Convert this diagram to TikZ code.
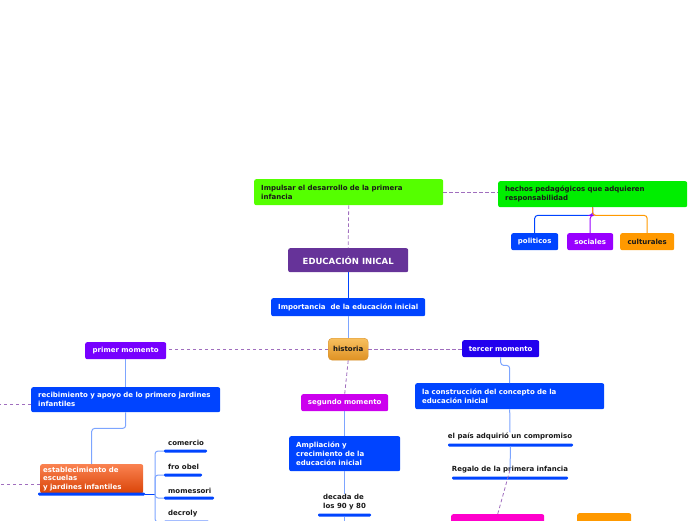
\documentclass[tikz,border=0pt]{standalone}
\usepackage{fontspec}
\setmainfont{DejaVu Sans}
\definecolor{cgreenA}{RGB}{85,255,0}
\definecolor{cgreenB}{RGB}{0,238,0}
\definecolor{cblue}{RGB}{0,68,255}
\definecolor{cviolet}{RGB}{153,0,255}
\definecolor{corange}{RGB}{255,153,0}
\definecolor{cedu}{RGB}{102,51,153}
\definecolor{cprimer}{RGB}{119,0,255}
\definecolor{ctercer}{RGB}{34,0,238}
\definecolor{csegundo}{RGB}{204,0,238}
\definecolor{cpink}{RGB}{255,0,204}
\definecolor{cdash}{RGB}{160,110,190}
\definecolor{clight}{RGB}{125,165,255}
\definecolor{ctext}{RGB}{25,25,25}
\tikzset{
  lbox/.style={rounded corners=2pt, inner xsep=7pt, inner ysep=0pt, anchor=north west,
    font=\bfseries\fontsize{7}{9}\selectfont, text=white, align=left},
  cbox/.style={rounded corners=2pt, inner xsep=1pt, inner ysep=0pt, anchor=north west,
    font=\bfseries\fontsize{7}{9}\selectfont, text=white, align=center},
  lbl/.style={inner sep=0pt, font=\bfseries\fontsize{7}{9}\selectfont, text=ctext},
  uline/.style={fill=cblue, rounded corners=1.2pt, minimum height=3pt, inner sep=0pt},
  dashln/.style={draw=cdash, dashed, dash pattern=on 3.5pt off 2.5pt, line width=0.8pt},
  lightln/.style={draw=clight, line width=1pt, rounded corners=3pt},
}
\begin{document}
\begin{tikzpicture}[x=1pt,y=-1pt]
\useasboundingbox (0,0) rectangle (696,520);
\clip (0,0) rectangle (696,520);
% top nodes
\node[lbox, fill=cgreenA, text=ctext, minimum width=189, minimum height=26, text width=175] (imp) at (254,179) {Impulsar el desarrollo de la primera\\infancia};
\node[lbox, fill=cgreenB, text=ctext, minimum width=189, minimum height=26, text width=175] (hec) at (498,181) {hechos pedagógicos que adquieren\\responsabilidad};
\node[cbox, fill=cblue, minimum width=47, minimum height=17] (pol) at (511,233) {politicos};
\node[cbox, fill=cviolet, minimum width=46, minimum height=17] (soc) at (567,233) {sociales};
\node[cbox, fill=corange, text=ctext, minimum width=54, minimum height=17] (cul) at (620,233) {culturales};
\node[cbox, fill=cedu, minimum width=120, minimum height=24, font=\bfseries\fontsize{8.5}{10}\selectfont] (edu) at (288,248) {EDUCACIÓN INICAL};
\node[cbox, fill=cblue, minimum width=154, minimum height=18] (imp2) at (271,298) {Importancia\ \ de la educación inicial};
\node[cbox, rounded corners=4pt, top color={rgb,255:red,248;green,192;blue,95}, bottom color={rgb,255:red,222;green,145;blue,35}, draw={rgb,255:red,215;green,145;blue,45}, text=ctext, minimum width=40, minimum height=22] (hist) at (328,338) {historia};
\node[cbox, fill=cprimer, minimum width=81, minimum height=17] (pm) at (85,342) {primer momento};
\node[cbox, fill=ctercer, minimum width=77, minimum height=17] (tm) at (462,340) {tercer momento};
\node[cbox, fill=csegundo, minimum width=87, minimum height=17] (sm) at (301,394) {segundo momento};
\node[lbox, fill=cblue, minimum width=189, minimum height=25, text width=175] (rec) at (31,387) {recibimiento y apoyo de lo primero jardines\\infantiles};
\node[lbox, fill=cblue, minimum width=189, minimum height=26, text width=175] (con) at (415,383) {la construcción del concepto de la\\educación inicial};
\node[lbox, fill=cblue, minimum width=111, minimum height=35, text width=97] (amp) at (289,436) {Ampliación y\\crecimiento de la\\educación inicial};
\node[lbox, inner xsep=3pt, top color={rgb,255:red,250;green,130;blue,80}, bottom color={rgb,255:red,218;green,68;blue,8}, minimum width=103, minimum height=29, text width=97, font=\bfseries\fontsize{7}{8.5}\selectfont] (est) at (40,464) {establecimiento de\\escuelas\\y jardines infantiles};
\node[cbox, fill=cpink, minimum width=93, minimum height=20] (pink) at (451,514) {};
\node[cbox, fill=corange, minimum width=54, minimum height=20] (orb) at (577,513) {};
% labels
\node[lbl, anchor=west] (comT) at (168,443) {comercio};
\node[lbl, anchor=west] (froT) at (168,467) {fro obel};
\node[lbl, anchor=west] (momT) at (168,491) {momessori};
\node[lbl, anchor=west] (decT) at (168,514) {decroly};
\node[lbl, anchor=north west, align=left, font=\bfseries\fontsize{7}{9}\selectfont] (dcdT) at (323,494) {decada de\\los 90 y 80};
\node[lbl] (paisT) at (510,436) {el país adquirió un compromiso};
\node[lbl] (regT) at (510,470) {Regalo de la primera infancia};
% underlines
\node[uline, minimum width=107] (estU) at (91.5,494) {};
\node[uline, minimum width=43] (comU) at (185.5,451) {};
\node[uline, minimum width=38] (froU) at (183,475) {};
\node[uline, minimum width=50] (momU) at (189,498) {};
\node[uline, minimum width=45] (decU) at (186.5,522) {};
\node[uline, minimum width=53] (dcdU) at (344.5,515) {};
\node[uline, minimum width=125] (paisU) at (510.5,445) {};
\node[uline, minimum width=116] (regU) at (510,478) {};
% free ends
\coordinate (edgeA) at (0,404);
\coordinate (edgeB) at (0,484);
\coordinate (lj) at (155,494);
\coordinate (bot1) at (344.5,530);
% connectors
\draw[dashln] (imp.east) -- (imp.east -| hec.west);
\draw[dashln] (imp.south) -- (edu.north);
\draw[draw=cblue, line width=1pt, rounded corners=3pt] (hec.south) -- ++(0,8) -| (pol.north);
\draw[draw=cviolet, line width=1pt, rounded corners=3pt] (hec.south) -- ++(0,8) -| (soc.north);
\draw[draw=corange, line width=1pt, rounded corners=3pt] (hec.south) -- ++(0,8) -| (cul.north);
\draw[draw=cblue, line width=1pt] (edu.south) -- (imp2.north);
\draw[lightln] (imp2.south) -- (hist.north);
\draw[dashln] (hist.west) -- (hist.west -| pm.east);
\draw[dashln] (hist.east) -- (hist.east -| tm.west);
\draw[dashln] (hist.south) -- (sm.north);
\draw[lightln] (pm.south) -- (rec.north);
\draw[lightln] (rec.south) -- ++(0,16) -| (est.north);
\draw[dashln] (edgeA -| rec.west) -- (edgeA);
\draw[dashln] (edgeB -| est.west) -- (edgeB);
\draw[draw=cblue, line width=1pt] (estU.east) -- (lj);
\draw[lightln] (lj) |- (comU.west);
\draw[lightln] (lj) |- (froU.west);
\draw[lightln] (lj) |- (momU.west);
\draw[lightln] (lj) |- (decU.west);
\draw[lightln] (sm.south) -- (amp.north);
\draw[lightln] (amp.south) -- (dcdT.north -| amp.south);
\draw[lightln] (dcdU.south) -- (bot1);
\draw[lightln] (tm.south) -- ++(0,8) -| (con.north);
\draw[lightln] (con.south) -- (paisT.north);
\draw[lightln] (paisU.south) -- (regT.center);
\draw[dashln] (regT.center) -- (pink.north);
\end{tikzpicture}
\end{document}
